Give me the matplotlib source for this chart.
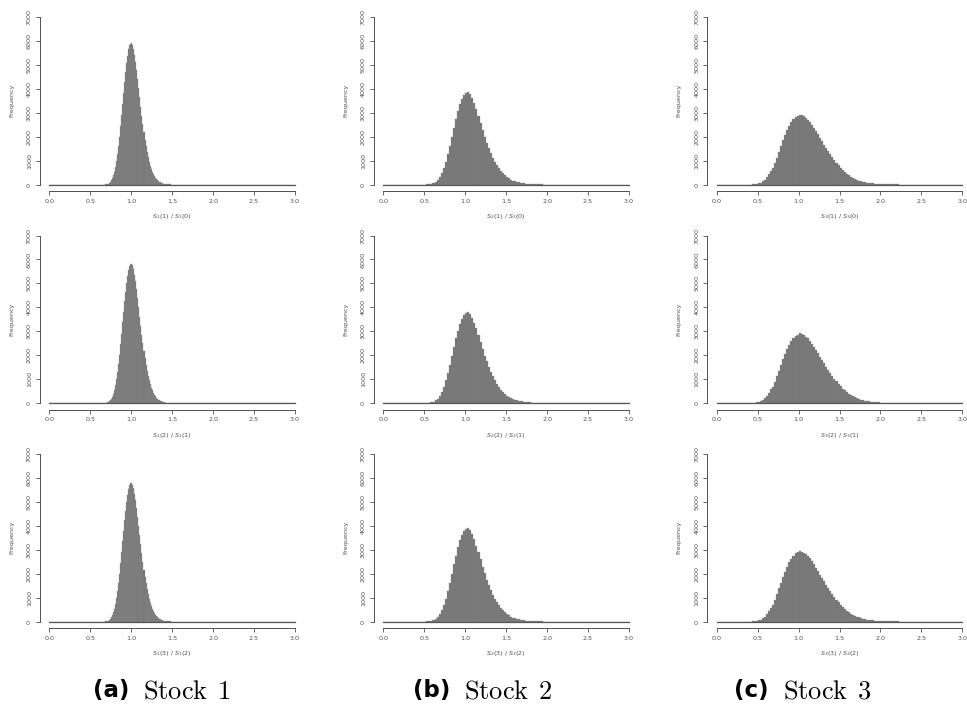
import matplotlib
matplotlib.use("Agg")
import matplotlib.pyplot as plt
import numpy as np

# histogram counts on [0, 3]; each list starts at the given left bin edge
bin_widths = [0.0125, 0.025, 0.025]

s1_starts = [0.6625, 0.6625, 0.6625]
s1_row1 = [4, 8, 15, 25, 42, 70, 112, 175, 262, 380, 540, 740, 990, 1270, 1610, 2000, 2440,
           2900, 3380, 3830, 4280, 4700, 5070, 5390, 5650, 5810, 5890, 5900, 5820, 5650, 5420,
           5120, 4780, 4400, 4020, 3640, 3250, 2880, 2520, 2180, 1880, 1600, 1360, 1140, 950,
           790, 650, 530, 430, 350, 285, 228, 182, 144, 114, 90, 70, 55, 42, 32, 25, 19, 14, 11,
           8, 6, 4]
s1_row2 = [5, 9, 14, 26, 44, 72, 115, 178, 266, 386, 548, 752, 1000, 1285, 1625, 2015, 2450,
           2905, 3370, 3810, 4245, 4650, 5000, 5310, 5560, 5720, 5810, 5820, 5750, 5590, 5370,
           5080, 4750, 4375, 3995, 3615, 3230, 2860, 2505, 2170, 1870, 1590, 1350, 1135, 945,
           785, 648, 528, 428, 348, 283, 226, 180, 143, 113, 89, 69, 54, 41, 31, 24, 18, 14, 10,
           8, 5, 4]
s1_row3 = [4, 8, 16, 24, 43, 71, 113, 176, 264, 383, 544, 746, 995, 1278, 1618, 2008, 2445,
           2902, 3365, 3800, 4230, 4630, 4980, 5290, 5530, 5700, 5780, 5790, 5720, 5560, 5345,
           5060, 4735, 4365, 3990, 3610, 3228, 2862, 2508, 2172, 1872, 1595, 1355, 1138, 948,
           788, 649, 529, 429, 349, 284, 227, 181, 143, 114, 90, 70, 55, 42, 32, 24, 19, 13, 11,
           7, 6, 4]

s2_starts = [0.5, 0.5, 0.5]
s2_row1 = [2, 6, 14, 30, 60, 110, 191, 309, 473, 687, 953, 1264, 1616, 1989, 2367, 2733, 3068,
           3358, 3586, 3746, 3832, 3860, 3780, 3620, 3400, 3150, 2870, 2580, 2290, 2000, 1750,
           1520, 1310, 1120, 950, 800, 675, 565, 470, 388, 318, 260, 211, 170, 137, 110, 88, 70,
           55, 43, 34, 26, 20, 15, 12, 9, 7, 5, 4, 3, 2, 1]
s2_row2 = [2, 5, 15, 31, 62, 112, 188, 305, 470, 680, 945, 1250, 1600, 1970, 2340, 2700, 3020,
           3300, 3520, 3680, 3770, 3790, 3720, 3570, 3360, 3120, 2850, 2560, 2270, 1985, 1740,
           1510, 1300, 1115, 945, 795, 672, 560, 468, 385, 316, 258, 210, 168, 136, 109, 87, 69,
           54, 42, 33, 26, 20, 16, 12, 9, 7, 5, 4, 3, 2, 1]
s2_row3 = [2, 6, 13, 29, 59, 108, 193, 312, 478, 694, 962, 1275, 1630, 2005, 2390, 2760, 3100,
           3400, 3630, 3790, 3880, 3905, 3820, 3650, 3430, 3170, 2890, 2600, 2300, 2010, 1755,
           1525, 1315, 1125, 952, 803, 678, 567, 472, 390, 320, 261, 212, 171, 138, 111, 89, 71,
           56, 44, 34, 27, 21, 15, 12, 9, 7, 5, 4, 3, 2, 1]

s3_starts = [0.375, 0.375, 0.375]
s3_row1 = [1, 2, 6, 13, 26, 47, 82, 134, 206, 303, 426, 576, 700, 900, 1130, 1370, 1610, 1850,
           2070, 2272, 2451, 2603, 2726, 2816, 2873, 2898, 2892, 2858, 2799, 2716, 2615, 2500,
           2372, 2237, 2096, 1953, 1811, 1670, 1533, 1401, 1275, 1150, 1030, 915, 805, 705, 612,
           530, 455, 390, 333, 283, 240, 203, 171, 144, 121, 101, 85, 71, 59, 49, 41, 34, 28, 23,
           19, 16, 13, 11, 9, 7, 6, 5, 4, 3, 3, 2, 2, 1, 1]
s3_row2 = [1, 3, 6, 12, 25, 46, 80, 131, 202, 298, 420, 568, 692, 890, 1118, 1356, 1598, 1836,
           2052, 2255, 2430, 2580, 2700, 2790, 2845, 2910, 2868, 2840, 2770, 2700, 2590, 2480,
           2355, 2225, 2080, 1940, 1800, 1660, 1522, 1390, 1268, 1143, 1024, 910, 800, 702, 609,
           527, 452, 388, 331, 281, 238, 201, 170, 143, 120, 100, 84, 70, 58, 48, 40, 33, 28, 23,
           19, 15, 13, 10, 9, 7, 6, 5, 4, 3, 2, 2, 2, 1, 1]
s3_row3 = [1, 2, 7, 14, 27, 48, 84, 137, 210, 308, 432, 583, 708, 910, 1142, 1384, 1625, 1866,
           2088, 2290, 2472, 2625, 2750, 2845, 2900, 2960, 2915, 2880, 2822, 2735, 2636, 2515,
           2388, 2250, 2108, 1962, 1820, 1678, 1540, 1408, 1280, 1156, 1035, 920, 810, 708, 615,
           532, 457, 392, 335, 285, 241, 204, 172, 145, 122, 102, 86, 72, 60, 50, 41, 34, 28, 23,
           20, 16, 13, 11, 9, 7, 6, 5, 4, 3, 3, 2, 2, 1, 1]

panels = [
    [(s1_starts[0], s1_row1), (s2_starts[0], s2_row1), (s3_starts[0], s3_row1)],
    [(s1_starts[1], s1_row2), (s2_starts[1], s2_row2), (s3_starts[1], s3_row2)],
    [(s1_starts[2], s1_row3), (s2_starts[2], s2_row3), (s3_starts[2], s3_row3)],
]
x_labels = [
    [r"$S_1(1)$ / $S_1(0)$", r"$S_2(1)$ / $S_2(0)$", r"$S_3(1)$ / $S_3(0)$"],
    [r"$S_1(2)$ / $S_1(1)$", r"$S_2(2)$ / $S_2(1)$", r"$S_3(2)$ / $S_3(1)$"],
    [r"$S_1(3)$ / $S_1(2)$", r"$S_2(3)$ / $S_2(2)$", r"$S_3(3)$ / $S_3(2)$"],
]
captions = [("(a)", "Stock 1"), ("(b)", "Stock 2"), ("(c)", "Stock 3")]
x_ticks = [0.0, 0.5, 1.0, 1.5, 2.0, 2.5, 3.0]
y_ticks = [0, 1000, 2000, 3000, 4000, 5000, 6000, 7000]


def full_counts(start, counts, bw):
    edges = np.arange(0, 3 + bw / 2, bw)
    arr = np.zeros(len(edges) - 1)
    i = int(round(start / bw))
    arr[i:i + len(counts)] = counts
    return edges, arr


W, H = 967, 713
fig = plt.figure(figsize=(W / 100, H / 100), dpi=100)

col_left = [39.5, 373.5, 706.9]
row_top = [10.3, 228.8, 447.3]
ax_w, ax_h = 265.3, 181.0
ink = "#505050"

for r in range(3):
    for c in range(3):
        ax = fig.add_axes([col_left[c] / W, 1 - (row_top[r] + ax_h) / H, ax_w / W, ax_h / H])
        start, counts = panels[r][c]
        bw = bin_widths[c]
        edges, heights = full_counts(start, counts, bw)
        ax.bar(edges[:-1], heights, width=bw, align="edge",
               color="#767676", edgecolor="#8a8a8a", linewidth=0.2)
        ax.plot([edges[0], edges[-1]], [0, 0], color="#555555", lw=0.9)

        ax.set_xlim(-0.12, 3.12)
        ax.set_ylim(-280, 7280)
        for s in ("top", "right"):
            ax.spines[s].set_visible(False)
        ax.spines["left"].set_bounds(0, 7000)
        ax.spines["bottom"].set_bounds(0, 3)
        for s in ("left", "bottom"):
            ax.spines[s].set_color(ink)
            ax.spines[s].set_linewidth(0.7)

        ax.set_xticks(x_ticks)
        ax.set_xticklabels([f"{v:.1f}" for v in x_ticks])
        ax.set_yticks(y_ticks)
        ax.set_yticklabels([str(v) for v in y_ticks], rotation=90, va="center")
        ax.tick_params(length=3, width=0.6, pad=2.5, labelsize=4.6, colors=ink)

        ax.set_ylabel("Frequency", fontsize=4.6, color=ink)
        ax.yaxis.set_label_coords(-0.095, 0.5)
        ax.set_xlabel(x_labels[r][c], fontsize=4.6, color=ink)
        ax.xaxis.set_label_coords(0.5, -0.115)

# sub-figure captions
cap_right = [129, 450, 769]
for (tag, name), xr in zip(captions, cap_right):
    y = 1 - 690 / H
    fig.text(xr / W, y, tag, ha="right", va="center", fontsize=16.5,
             fontweight="bold", family="DejaVu Sans")
    fig.text((xr + 14) / W, y - 0.002, r"$\mathrm{" + name.replace(" ", r"\;\,") + "}$",
             ha="left", va="center", fontsize=19, math_fontfamily="cm")

fig.savefig("out.png", dpi=100)
